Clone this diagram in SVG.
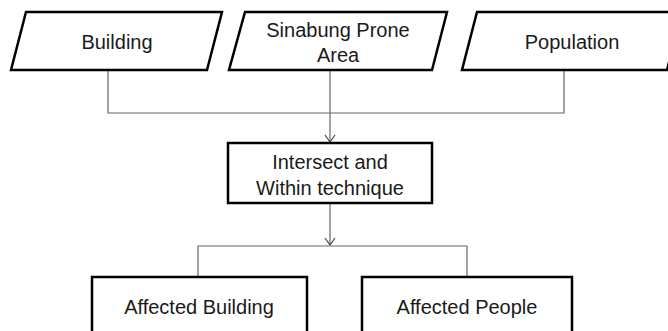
<svg xmlns="http://www.w3.org/2000/svg" width="668" height="331" viewBox="0 0 668 331">
  <style>
    .shape { fill: #ffffff; stroke: #000000; stroke-width: 2.5; }
    .label { font-family: "Liberation Sans", Arial, sans-serif; font-size: 20px; fill: #1a1a1a; text-anchor: middle; }
    .wire { fill: none; stroke: #666666; stroke-width: 1.2; }
  </style>
  <defs>
    <marker id="open-arrow" markerWidth="12" markerHeight="12" refX="10" refY="6" orient="auto" markerUnits="userSpaceOnUse" viewBox="0 0 12 12">
      <path d="M3,1 L10,6 L3,11" fill="none" stroke="#444444" stroke-width="1.2"/>
    </marker>
  </defs>

  <rect width="668" height="331" fill="#ffffff"/>

  <g id="connectors">
    <path class="wire" d="M108,70 V113 H564 V70"/>
    <path class="wire" d="M330,70 V142" marker-end="url(#open-arrow)"/>
    <path class="wire" d="M330,203 V245" marker-end="url(#open-arrow)"/>
    <path class="wire" d="M198,277 V246 H467 V277"/>
  </g>

  <g id="node-building">
    <polygon class="shape" points="26,12 222,12 207,70 11,70"/>
    <text class="label" x="117" y="49">Building</text>
  </g>

  <g id="node-sinabung">
    <polygon class="shape" points="245,12 447,12 432,70 229,70"/>
    <text class="label" x="338" y="37">Sinabung Prone</text>
    <text class="label" x="338" y="62">Area</text>
  </g>

  <g id="node-population">
    <polygon class="shape" points="477,12 682,12 667,70 462,70"/>
    <text class="label" x="572" y="49">Population</text>
  </g>

  <g id="node-intersect">
    <rect class="shape" x="228" y="143" width="204" height="60"/>
    <text class="label" x="330" y="169">Intersect and</text>
    <text class="label" x="330" y="195">Within technique</text>
  </g>

  <g id="node-affected-building">
    <rect class="shape" x="92" y="277" width="215" height="70"/>
    <text class="label" x="199" y="314">Affected Building</text>
  </g>

  <g id="node-affected-people">
    <rect class="shape" x="362" y="277" width="210" height="70"/>
    <text class="label" x="467" y="314">Affected People</text>
  </g>
</svg>
